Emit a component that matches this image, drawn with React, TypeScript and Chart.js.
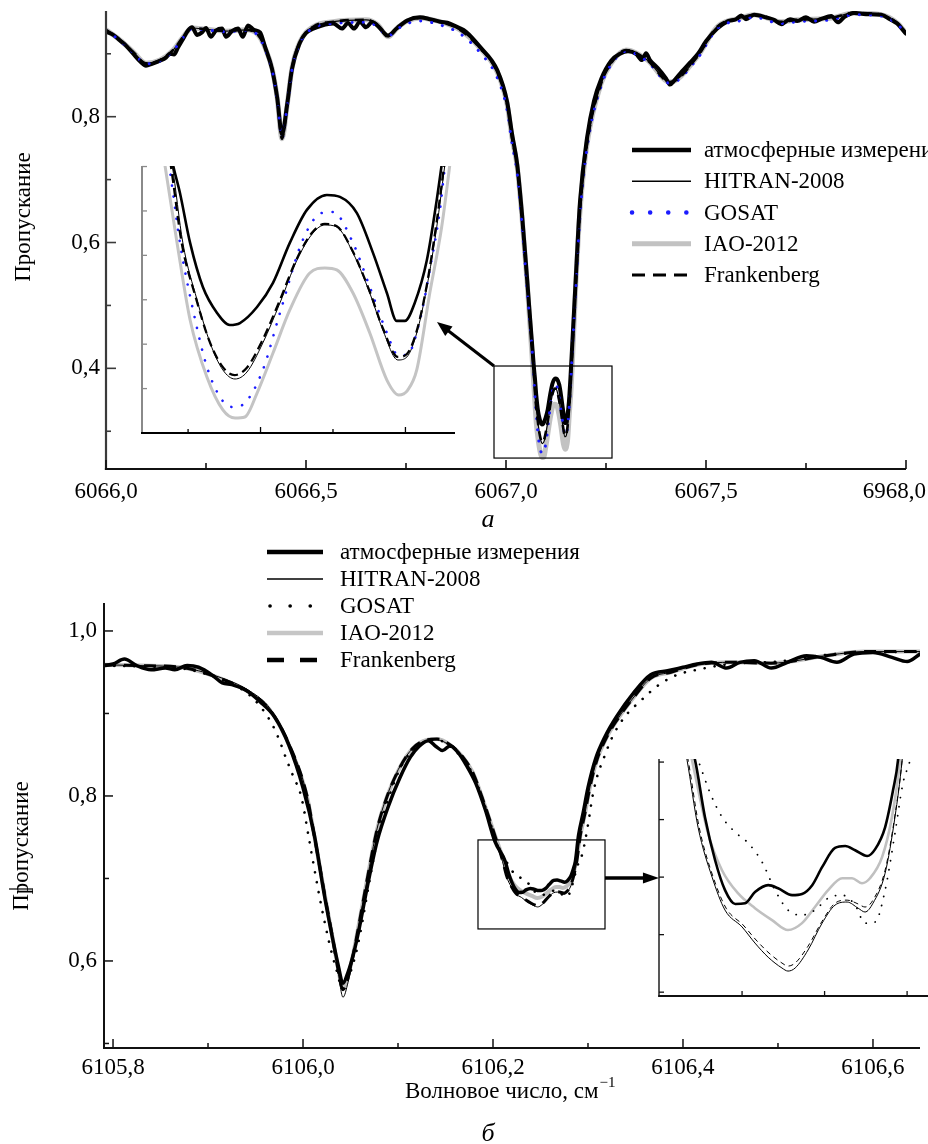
import { useEffect, useRef } from "react";
import { Chart, registerables } from "chart.js";

Chart.register(...registerables);

const SERIF = '"Liberation Serif", "DejaVu Serif", serif';

/* ================= Panel а (top) : ranges & ticks ================= */
const topRangeX = [6066.0, 6068.0];
const topRangeY = [0.24, 0.968];
const topXMajor = [6066.0, 6066.5, 6067.0, 6067.5, 6068.0];
const topXLabels = ["6066,0", "6066,5", "6067,0", "6067,5", "6968,0"];
const topXMinor = [6066.25, 6066.75, 6067.25, 6067.75];
const topYMajor = [0.4, 0.6, 0.8];
const topYLabels = ["0,4", "0,6", "0,8"];
const topYMinor = [0.3, 0.5, 0.7, 0.9];

const topInsetRangeX = [6067.0591, 6067.1671];
const topInsetRangeY = [0.25, 0.4003];
const topInsetXMajor = [6067.1, 6067.15];
const topInsetXMinor = [6067.075, 6067.125];
const topInsetYTicks = [0.275, 0.3, 0.325, 0.35, 0.375, 0.4];

const topBoxX = [6066.97, 6067.265];
const topBoxY = [0.2574, 0.4037];
const topArrowFrom = [6066.97, 0.4037];
const topArrowTo = [6066.8275, 0.4736];

/* ---- measurements (top) ---- */
const topMeasX = [
  6066.0, 6066.018, 6066.035, 6066.05, 6066.068, 6066.085, 6066.1, 6066.115, 6066.135, 6066.15,
  6066.16, 6066.17, 6066.18, 6066.193, 6066.205, 6066.215, 6066.228, 6066.24, 6066.25, 6066.262,
  6066.275, 6066.29, 6066.3, 6066.315, 6066.33, 6066.342, 6066.355, 6066.37, 6066.385, 6066.398,
  6066.415, 6066.428, 6066.44, 6066.453, 6066.465, 6066.485, 6066.5, 6066.518, 6066.54, 6066.568,
  6066.59, 6066.605, 6066.62, 6066.635, 6066.65, 6066.665, 6066.68, 6066.705, 6066.728, 6066.753,
  6066.785, 6066.81, 6066.835, 6066.86, 6066.88, 6066.9, 6066.935, 6066.978, 6067.003, 6067.015,
  6067.028, 6067.04, 6067.053,
  6067.0698, 6067.0722, 6067.0757, 6067.0801, 6067.085, 6067.0894, 6067.0929, 6067.0988, 6067.1043, 6067.1101,
  6067.116, 6067.1229, 6067.1274, 6067.1332, 6067.1388, 6067.1436, 6067.147, 6067.1498, 6067.1532, 6067.1574,
  6067.1608, 6067.1625,
  6067.175, 6067.185, 6067.203, 6067.22, 6067.238, 6067.263, 6067.285, 6067.305, 6067.325, 6067.34,
  6067.35, 6067.36, 6067.38, 6067.4, 6067.41, 6067.42, 6067.44, 6067.46, 6067.48, 6067.5,
  6067.528, 6067.555, 6067.575, 6067.588, 6067.6, 6067.62, 6067.65, 6067.67, 6067.688, 6067.71,
  6067.728, 6067.75, 6067.77, 6067.79, 6067.813, 6067.83, 6067.845, 6067.87, 6067.9, 6067.938,
  6067.96, 6067.978, 6068.0,
];
const topMeasY = [
  0.935, 0.93, 0.921, 0.913, 0.9, 0.888, 0.881, 0.884, 0.889, 0.894,
  0.9, 0.899, 0.91, 0.924, 0.937, 0.942, 0.93, 0.934, 0.941, 0.927,
  0.937, 0.94, 0.927, 0.936, 0.94, 0.927, 0.945, 0.938, 0.934, 0.91,
  0.876, 0.83, 0.772, 0.82, 0.876, 0.918, 0.933, 0.94, 0.945, 0.948,
  0.94, 0.949, 0.94, 0.951, 0.942, 0.95, 0.944, 0.929, 0.941, 0.953,
  0.958, 0.955, 0.951, 0.948, 0.942, 0.935, 0.911, 0.874, 0.823, 0.773,
  0.724, 0.645, 0.54,
  0.4009, 0.3851, 0.357, 0.3322, 0.3176, 0.3108, 0.3119, 0.3209, 0.3345, 0.357,
  0.3756, 0.384, 0.3829, 0.3739, 0.3514, 0.3288, 0.3131, 0.3131, 0.3232, 0.3474,
  0.3812, 0.4009,
  0.55, 0.665, 0.768, 0.825, 0.86, 0.889, 0.9, 0.904, 0.9, 0.89,
  0.901, 0.89, 0.877, 0.861, 0.851, 0.857, 0.872, 0.886, 0.9, 0.92,
  0.94, 0.952, 0.955, 0.961, 0.955, 0.962, 0.958, 0.954, 0.947, 0.955,
  0.952, 0.958, 0.951, 0.956, 0.96, 0.95, 0.958, 0.965, 0.963, 0.962,
  0.955, 0.948, 0.932,
];

/* ---- model wings (top), shared by HITRAN / IAO / Frankenberg ---- */
const topModelLeftX = [
  6066.0, 6066.035, 6066.068, 6066.1, 6066.135, 6066.168, 6066.193, 6066.215, 6066.25, 6066.3,
  6066.35, 6066.38, 6066.398, 6066.415, 6066.428, 6066.44, 6066.453, 6066.465, 6066.485, 6066.518,
  6066.568, 6066.65, 6066.68, 6066.705, 6066.728, 6066.753, 6066.785, 6066.835, 6066.885, 6066.935,
  6066.978, 6067.003, 6067.015, 6067.028, 6067.04, 6067.053,
];
const topModelLeftY = [
  0.938, 0.922, 0.903, 0.885, 0.89, 0.906, 0.927, 0.941, 0.939, 0.936,
  0.938, 0.93, 0.909, 0.877, 0.83, 0.765, 0.819, 0.877, 0.919, 0.943,
  0.951, 0.954, 0.946, 0.927, 0.941, 0.952, 0.957, 0.951, 0.938, 0.909,
  0.871, 0.819, 0.766, 0.72, 0.64, 0.535,
];
const topGosatLeftY = [
  0.937, 0.921, 0.902, 0.884, 0.889, 0.905, 0.926, 0.94, 0.938, 0.935,
  0.937, 0.929, 0.907, 0.875, 0.828, 0.766, 0.817, 0.875, 0.917, 0.941,
  0.948, 0.95, 0.943, 0.928, 0.939, 0.948, 0.952, 0.946, 0.932, 0.902,
  0.862, 0.81, 0.758, 0.71, 0.628, 0.524,
];
const topModelRightX = [
  6067.175, 6067.185, 6067.203, 6067.238, 6067.263, 6067.3, 6067.353, 6067.41, 6067.478, 6067.528,
  6067.588, 6067.62, 6067.688, 6067.728, 6067.813, 6067.87, 6067.938, 6067.978, 6068.0,
];
const topModelRightY = [
  0.54, 0.65, 0.758, 0.853, 0.885, 0.906, 0.89, 0.855, 0.895, 0.943,
  0.957, 0.962, 0.951, 0.954, 0.957, 0.965, 0.962, 0.949, 0.933,
];
const topGosatRightY = [
  0.53, 0.642, 0.752, 0.849, 0.883, 0.904, 0.888, 0.853, 0.892, 0.94,
  0.953, 0.958, 0.948, 0.951, 0.954, 0.962, 0.96, 0.947, 0.932,
];

/* ---- line cores (top, the zoomed doublet) ---- */
const topHitranDipX = [
  6067.0695, 6067.0732, 6067.0781, 6067.0826, 6067.087, 6067.0912, 6067.0953, 6067.1008, 6067.1067, 6067.1126,
  6067.1181, 6067.1222, 6067.1263, 6067.1319, 6067.1377, 6067.1422, 6067.1474, 6067.1505, 6067.1539, 6067.1574,
  6067.1608, 6067.1636,
];
const topHitranDipY = [
  0.4009, 0.357, 0.3249, 0.3007, 0.2855, 0.2804, 0.2843, 0.3007, 0.3232, 0.3474,
  0.3626, 0.3671, 0.366, 0.3514, 0.3288, 0.308, 0.2911, 0.2928, 0.3063, 0.3322,
  0.366, 0.4009,
];
const topFrankDipX = [
  6067.069, 6067.0728, 6067.0778, 6067.0823, 6067.0868, 6067.091, 6067.0952, 6067.1006, 6067.1066, 6067.1125,
  6067.118, 6067.1222, 6067.1263, 6067.1319, 6067.1377, 6067.1422, 6067.1474, 6067.1505, 6067.1539, 6067.1574,
  6067.1606, 6067.1634,
];
const topFrankDipY = [
  0.4009, 0.357, 0.3255, 0.302, 0.2875, 0.2826, 0.2866, 0.302, 0.3245, 0.348,
  0.3632, 0.3677, 0.3664, 0.352, 0.3295, 0.309, 0.2928, 0.2945, 0.3075, 0.3335,
  0.3668, 0.4009,
];
const topGosatDipX = [
  6067.0684, 6067.0722, 6067.0767, 6067.0815, 6067.0867, 6067.0905, 6067.0946, 6067.1008, 6067.1067, 6067.1146,
  6067.1212, 6067.125, 6067.1319, 6067.1377, 6067.1436, 6067.1474, 6067.1505, 6067.155, 6067.1584, 6067.1619,
  6067.1636,
];
const topGosatDipY = [
  0.4009, 0.357, 0.3193, 0.2872, 0.2686, 0.2646, 0.2669, 0.2855, 0.3176, 0.3587,
  0.3739, 0.3744, 0.357, 0.3322, 0.3063, 0.2939, 0.2939, 0.3136, 0.3418, 0.3756,
  0.3998,
];
const topIaoDipX = [
  6067.067, 6067.0712, 6067.0757, 6067.0815, 6067.087, 6067.0912, 6067.0946, 6067.0988, 6067.1043, 6067.1101,
  6067.117, 6067.1222, 6067.1263, 6067.1319, 6067.1377, 6067.1436, 6067.1477, 6067.1508, 6067.1539, 6067.1584,
  6067.1625, 6067.1653,
];
const topIaoDipY = [
  0.4009, 0.357, 0.3136, 0.2815, 0.263, 0.2584, 0.259, 0.2725, 0.295, 0.3193,
  0.3401, 0.3429, 0.3418, 0.3288, 0.3063, 0.2798, 0.2714, 0.2742, 0.2855, 0.3288,
  0.366, 0.4009,
];

/* ================= Panel б (bottom) : ranges & ticks ================= */
const botRangeX = [6105.7905, 6106.6495];
const botRangeY = [0.4945, 1.0339];
const botXMajor = [6105.8, 6106.0, 6106.2, 6106.4, 6106.6];
const botXLabels = ["6105,8", "6106,0", "6106,2", "6106,4", "6106,6"];
const botXMinor = [6105.9, 6106.1, 6106.3, 6106.5];
const botYMajor = [0.6, 0.8, 1.0];
const botYLabels = ["0,6", "0,8", "1,0"];
const botYMinor = [0.5, 0.7, 0.9];

const botInsetRangeX = [6106.1998, 6106.2976];
const botInsetRangeY = [0.659, 0.7208];
const botInsetXTicks = [6106.23, 6106.26, 6106.29];
const botInsetYTicks = [0.66, 0.675, 0.69, 0.705, 0.72];

const botBoxX = [6106.1842, 6106.3179];
const botBoxY = [0.6388, 0.7467];
const botArrowFrom = [6106.3179, 0.7006];
const botArrowTo = [6106.3747, 0.7006];

const botMeasX = [
  6105.7905, 6105.8, 6105.812, 6105.825, 6105.84, 6105.855, 6105.865, 6105.878, 6105.89, 6105.905,
  6105.915, 6105.925, 6105.94, 6105.955, 6105.97, 6105.985, 6106.0, 6106.012, 6106.022, 6106.031,
  6106.037, 6106.042, 6106.047, 6106.053, 6106.058, 6106.068, 6106.078, 6106.09, 6106.102, 6106.113,
  6106.122, 6106.132, 6106.14, 6106.147, 6106.155, 6106.163, 6106.172, 6106.182, 6106.192, 6106.202,
  6106.2129, 6106.2165, 6106.2202, 6106.2238, 6106.2275, 6106.2311, 6106.2347, 6106.2395, 6106.2431, 6106.2482,
  6106.2518, 6106.2555, 6106.2591, 6106.2638, 6106.2675, 6106.2711, 6106.2755, 6106.2784, 6106.282, 6106.2849,
  6106.2867,
  6106.29, 6106.295, 6106.3, 6106.308, 6106.318, 6106.33, 6106.348, 6106.366, 6106.385, 6106.4,
  6106.415, 6106.43, 6106.446, 6106.46, 6106.475, 6106.493, 6106.51, 6106.53, 6106.545, 6106.562,
  6106.58, 6106.6, 6106.62, 6106.636, 6106.6495,
];
const botMeasY = [
  0.958, 0.96, 0.966, 0.958, 0.953, 0.955, 0.953, 0.958, 0.956, 0.946,
  0.937, 0.935, 0.928, 0.914, 0.896, 0.862, 0.81, 0.752, 0.683, 0.628,
  0.595, 0.573, 0.585, 0.608, 0.633, 0.692, 0.745, 0.788, 0.822, 0.847,
  0.86, 0.867, 0.86, 0.855, 0.861, 0.853, 0.837, 0.815, 0.783, 0.745,
  0.7205, 0.7057, 0.6944, 0.6866, 0.683, 0.6832, 0.6861, 0.6879, 0.6871, 0.6853,
  0.6856, 0.6879, 0.6926, 0.6976, 0.6981, 0.697, 0.6955, 0.6973, 0.703, 0.7127,
  0.7205,
  0.752, 0.78, 0.81, 0.845, 0.872, 0.896, 0.925, 0.947, 0.952, 0.956,
  0.96, 0.962, 0.955, 0.962, 0.964, 0.955, 0.962, 0.97, 0.968, 0.962,
  0.972, 0.974, 0.968, 0.963, 0.972,
];

const botGosatX = [
  6105.7905, 6105.83, 6105.87, 6105.91, 6105.944, 6105.965, 6105.975, 6105.982, 6105.99, 6105.998,
  6106.006, 6106.017, 6106.027, 6106.035, 6106.042, 6106.048, 6106.055, 6106.06, 6106.07, 6106.08,
  6106.09, 6106.102, 6106.116, 6106.13, 6106.141, 6106.155, 6106.168, 6106.179, 6106.19, 6106.2,
  6106.207,
  6106.214, 6106.2184, 6106.2227, 6106.2275, 6106.2322, 6106.2373, 6106.242, 6106.2467, 6106.2518, 6106.2565,
  6106.2613, 6106.2664, 6106.2711, 6106.2747, 6106.2784, 6106.282, 6106.2856, 6106.2885, 6106.2911,
  6106.2945, 6106.3, 6106.305, 6106.31, 6106.317, 6106.325, 6106.338, 6106.356, 6106.375, 6106.394,
  6106.415, 6106.45, 6106.5, 6106.55, 6106.6, 6106.6495,
];
const botGosatY = [
  0.958, 0.957, 0.955, 0.943, 0.922, 0.892, 0.868, 0.846, 0.823, 0.8,
  0.75, 0.68, 0.625, 0.59, 0.566, 0.58, 0.606, 0.632, 0.697, 0.757,
  0.797, 0.833, 0.856, 0.866, 0.868, 0.86, 0.845, 0.826, 0.793, 0.757,
  0.733,
  0.7205, 0.7119, 0.7057, 0.7017, 0.6989, 0.6939, 0.6866, 0.6814, 0.6801, 0.6814,
  0.6845, 0.6853, 0.6827, 0.678, 0.6783, 0.6866, 0.7015, 0.7145, 0.7205,
  0.732, 0.765, 0.801, 0.825, 0.847, 0.87, 0.895, 0.916, 0.935, 0.947,
  0.953, 0.96, 0.963, 0.971, 0.974, 0.975,
];

const botModelLeftX = [
  6105.7905, 6105.8284, 6105.8705, 6105.9095, 6105.9442, 6105.9653, 6105.9863, 6106.0042, 6106.0126, 6106.0232,
  6106.0316, 6106.0368, 6106.0421, 6106.0474, 6106.0526, 6106.0568, 6106.0674, 6106.0779, 6106.0884, 6106.1021,
  6106.1158, 6106.1305, 6106.1411, 6106.1547, 6106.1684, 6106.1789, 6106.1895, 6106.2,
];
const botIaoLeftY = [
  0.959, 0.958, 0.956, 0.944, 0.925, 0.904, 0.859, 0.799, 0.747, 0.678,
  0.625, 0.592, 0.567, 0.582, 0.607, 0.632, 0.698, 0.759, 0.799, 0.835,
  0.858, 0.868, 0.869, 0.862, 0.847, 0.828, 0.795, 0.759,
];
const botHitranLeftY = [
  0.959, 0.958, 0.956, 0.945, 0.927, 0.906, 0.862, 0.801, 0.748, 0.678,
  0.624, 0.588, 0.556, 0.574, 0.602, 0.63, 0.698, 0.76, 0.8, 0.836,
  0.858, 0.867, 0.868, 0.861, 0.846, 0.826, 0.793, 0.757,
];
const botFrankLeftY = [
  0.959, 0.958, 0.956, 0.944, 0.925, 0.904, 0.86, 0.8, 0.747, 0.678,
  0.625, 0.59, 0.565, 0.58, 0.606, 0.631, 0.698, 0.759, 0.799, 0.835,
  0.858, 0.868, 0.869, 0.862, 0.847, 0.828, 0.795, 0.759,
];
const botModelRightX = [
  6106.2916, 6106.2968, 6106.3021, 6106.3095, 6106.32, 6106.3305, 6106.3484, 6106.3663, 6106.3874, 6106.4147,
  6106.4505, 6106.4926, 6106.5558, 6106.5905, 6106.6495,
];
const botModelRightY = [
  0.75, 0.779, 0.811, 0.844, 0.872, 0.892, 0.92, 0.943, 0.95, 0.959,
  0.962, 0.961, 0.971, 0.975, 0.975,
];

const botIaoDipX = [
  6106.2118, 6106.2176, 6106.2227, 6106.2285, 6106.2347, 6106.2409, 6106.2467, 6106.2518, 6106.2565, 6106.2613,
  6106.2664, 6106.27, 6106.2736, 6106.2765, 6106.2809, 6106.2845, 6106.2875,
];
const botIaoDipY = [
  0.7205, 0.7015, 0.6918, 0.6858, 0.6819, 0.6788, 0.6762, 0.678, 0.6822, 0.6866,
  0.6897, 0.6897, 0.6884, 0.6897, 0.6952, 0.7057, 0.7205,
];
const botHitranDipX = [
  6106.21, 6106.214, 6106.2191, 6106.2238, 6106.23, 6106.2347, 6106.2395, 6106.2445, 6106.2467, 6106.2493,
  6106.254, 6106.2591, 6106.2638, 6106.2682, 6106.2722, 6106.2747, 6106.2776, 6106.282, 6106.2856, 6106.2882,
];
const botHitranDipY = [
  0.7205, 0.703, 0.69, 0.6814, 0.677, 0.6728, 0.6691, 0.6663, 0.6655, 0.6663,
  0.671, 0.678, 0.6827, 0.6835, 0.6819, 0.6809, 0.6832, 0.691, 0.7057, 0.7205,
];
const botFrankDipX = [
  6106.2104, 6106.2144, 6106.2195, 6106.2242, 6106.2304, 6106.2351, 6106.2398, 6106.2445, 6106.2467, 6106.2493,
  6106.254, 6106.2591, 6106.2638, 6106.2682, 6106.2722, 6106.2747, 6106.2776, 6106.282, 6106.2856, 6106.2882,
];
const botFrankDipY = [
  0.7205, 0.703, 0.69, 0.6819, 0.6775, 0.6736, 0.6702, 0.6676, 0.6668, 0.6676,
  0.672, 0.6785, 0.6832, 0.684, 0.683, 0.6822, 0.684, 0.6918, 0.7062, 0.7205,
];

const legendLabels = ["атмосферные измерения", "HITRAN-2008", "GOSAT", "IAO-2012", "Frankenberg"];

/* ================= helpers ================= */
type Style = { color: string; width: number; dash: number[]; cap: CanvasLineCap; order: number };

function series(xs: number[], ys: number[]) {
  return xs.map((x, i) => ({ x, y: ys[i] }));
}

function ds(data: { x: number; y: number }[], st: Style, clip?: number) {
  const d: any = {
    data,
    borderColor: st.color,
    borderWidth: st.width,
    borderDash: st.dash,
    borderCapStyle: st.cap,
    borderJoinStyle: "round",
    pointRadius: 0,
    fill: false,
    cubicInterpolationMode: "monotone",
    order: st.order,
  };
  if (clip !== undefined) d.clip = clip;
  return d;
}

function drawArrow(ctx: CanvasRenderingContext2D, x0: number, y0: number, x1: number, y1: number, w: number, hl: number, hw: number) {
  const ang = Math.atan2(y1 - y0, x1 - x0);
  const c = Math.cos(ang), s = Math.sin(ang);
  const bx = x1 - c * hl, by = y1 - s * hl;
  ctx.save();
  ctx.setLineDash([]);
  ctx.strokeStyle = "#000";
  ctx.lineWidth = w;
  ctx.lineCap = "butt";
  ctx.beginPath();
  ctx.moveTo(x0, y0);
  ctx.lineTo(bx + c * 2, by + s * 2);
  ctx.stroke();
  ctx.fillStyle = "#000";
  ctx.beginPath();
  ctx.moveTo(x1, y1);
  ctx.lineTo(bx - s * hw, by + c * hw);
  ctx.lineTo(bx + s * hw, by - c * hw);
  ctx.closePath();
  ctx.fill();
  ctx.restore();
}

function drawLegend(ctx: CanvasRenderingContext2D, styles: (Style & { start?: number })[], x0: number, x1: number, xt: number, y0: number, dy: number, px: number) {
  legendLabels.forEach((lab, i) => {
    const st = styles[i];
    const y = y0 + i * dy;
    ctx.save();
    ctx.strokeStyle = st.color;
    ctx.lineWidth = st.width;
    ctx.setLineDash(st.dash);
    ctx.lineCap = st.cap;
    ctx.beginPath();
    ctx.moveTo(st.start ?? x0, y);
    ctx.lineTo(x1, y);
    ctx.stroke();
    ctx.restore();
    ctx.fillStyle = "#000";
    ctx.font = `${px}px ${SERIF}`;
    ctx.textAlign = "left";
    ctx.textBaseline = "middle";
    ctx.fillText(lab, xt, y + 1);
  });
}

function drawRotated(ctx: CanvasRenderingContext2D, text: string, cx: number, cy: number, px: number) {
  ctx.save();
  ctx.translate(cx, cy);
  ctx.rotate(-Math.PI / 2);
  ctx.font = `${px}px ${SERIF}`;
  ctx.fillStyle = "#000";
  ctx.textAlign = "center";
  ctx.textBaseline = "middle";
  ctx.fillText(text, 0, 0);
  ctx.restore();
}

type Decor = {
  xMajor: number[]; xMinor: number[]; xLabels?: string[];
  yMajor: number[]; yMinor: number[]; yLabels?: string[];
  xMajorLen: number; xMinorLen: number; yMajorLen: number; yMinorLen: number;
  leftColor: string; bottomColor: string; leftWidth: number; bottomWidth: number; tickWidth: number;
  xLabelDy?: number; yLabelDx?: number; fontPx?: number;
  extra?: (chart: any) => void;
};

function decorPlugin(d: Decor) {
  return {
    id: "decor",
    afterDraw(chart: any) {
      const { ctx, chartArea: a, scales } = chart;
      const sx = scales.x, sy = scales.y;
      ctx.save();
      ctx.setLineDash([]);
      ctx.lineCap = "butt";
      ctx.strokeStyle = d.leftColor;
      ctx.lineWidth = d.leftWidth;
      ctx.beginPath();
      ctx.moveTo(a.left, a.top);
      ctx.lineTo(a.left, a.bottom + d.bottomWidth / 2);
      ctx.stroke();
      ctx.strokeStyle = d.bottomColor;
      ctx.lineWidth = d.bottomWidth;
      ctx.beginPath();
      ctx.moveTo(a.left - d.leftWidth / 2, a.bottom);
      ctx.lineTo(a.right, a.bottom);
      ctx.stroke();
      ctx.lineWidth = d.tickWidth;
      const xt = (v: number, len: number) => {
        const p = sx.getPixelForValue(v);
        ctx.beginPath();
        ctx.moveTo(p, a.bottom);
        ctx.lineTo(p, a.bottom - len);
        ctx.stroke();
      };
      d.xMajor.forEach((v) => xt(v, d.xMajorLen));
      d.xMinor.forEach((v) => xt(v, d.xMinorLen));
      ctx.strokeStyle = d.leftColor;
      const yt = (v: number, len: number) => {
        const p = sy.getPixelForValue(v);
        ctx.beginPath();
        ctx.moveTo(a.left, p);
        ctx.lineTo(a.left + len, p);
        ctx.stroke();
      };
      d.yMajor.forEach((v) => yt(v, d.yMajorLen));
      d.yMinor.forEach((v) => yt(v, d.yMinorLen));
      ctx.fillStyle = "#000";
      ctx.font = `${d.fontPx ?? 23}px ${SERIF}`;
      ctx.textBaseline = "middle";
      if (d.xLabels) {
        ctx.textAlign = "center";
        d.xMajor.forEach((v, i) => {
          const lab = d.xLabels![i];
          const w = ctx.measureText(lab).width;
          let p = sx.getPixelForValue(v);
          p = Math.min(p, chart.width - 2 - w / 2);
          p = Math.max(p, 2 + w / 2);
          ctx.fillText(lab, p, a.bottom + (d.xLabelDy ?? 22));
        });
      }
      if (d.yLabels) {
        ctx.textAlign = "right";
        d.yMajor.forEach((v, i) => {
          ctx.fillText(d.yLabels![i], a.left - (d.yLabelDx ?? 6), sy.getPixelForValue(v));
        });
      }
      ctx.restore();
      if (d.extra) {
        ctx.save();
        d.extra(chart);
        ctx.restore();
      }
    },
  };
}

function config(datasets: any[], rx: number[], ry: number[], padding: any, decor: Decor) {
  return {
    type: "line" as const,
    data: { datasets },
    options: {
      responsive: false,
      maintainAspectRatio: false,
      animation: false as const,
      devicePixelRatio: 1,
      events: [] as any[],
      layout: { padding },
      plugins: { legend: { display: false }, tooltip: { enabled: false } },
      scales: {
        x: { type: "linear" as const, min: rx[0], max: rx[1], display: false },
        y: { type: "linear" as const, min: ry[0], max: ry[1], display: false },
      },
    },
    plugins: [decorPlugin(decor)],
  };
}

/* ---- assembled series ---- */
const topHitranX = [...topModelLeftX, ...topHitranDipX, ...topModelRightX];
const topHitranY = [...topModelLeftY, ...topHitranDipY, ...topModelRightY];
const topFrankX = [...topModelLeftX, ...topFrankDipX, ...topModelRightX];
const topFrankY = [...topModelLeftY, ...topFrankDipY, ...topModelRightY];
const topIaoX = [...topModelLeftX, ...topIaoDipX, ...topModelRightX];
const topIaoY = [...topModelLeftY, ...topIaoDipY, ...topModelRightY];
const topGosatX = [...topModelLeftX, ...topGosatDipX, ...topModelRightX];
const topGosatY = [...topGosatLeftY, ...topGosatDipY, ...topGosatRightY];

const botHitranX = [...botModelLeftX, ...botHitranDipX, ...botModelRightX];
const botHitranY = [...botHitranLeftY, ...botHitranDipY, ...botModelRightY];
const botFrankX = [...botModelLeftX, ...botFrankDipX, ...botModelRightX];
const botFrankY = [...botFrankLeftY, ...botFrankDipY, ...botModelRightY];
const botIaoX = [...botModelLeftX, ...botIaoDipX, ...botModelRightX];
const botIaoY = [...botIaoLeftY, ...botIaoDipY, ...botModelRightY];

function topDatasets(st: Record<string, Style>, clip?: number) {
  return [
    ds(series(topMeasX, topMeasY), st.meas, clip),
    ds(series(topHitranX, topHitranY), st.hitran, clip),
    ds(series(topGosatX, topGosatY), st.gosat, clip),
    ds(series(topIaoX, topIaoY), st.iao, clip),
    ds(series(topFrankX, topFrankY), st.frank, clip),
  ];
}
function botDatasets(st: Record<string, Style>, clip?: number) {
  return [
    ds(series(botMeasX, botMeasY), st.meas, clip),
    ds(series(botHitranX, botHitranY), st.hitran, clip),
    ds(series(botGosatX, botGosatY), st.gosat, clip),
    ds(series(botIaoX, botIaoY), st.iao, clip),
    ds(series(botFrankX, botFrankY), st.frank, clip),
  ];
}

const topMainStyle: Record<string, Style> = {
  meas: { color: "#000", width: 4, dash: [], cap: "round", order: 3 },
  hitran: { color: "#000", width: 1.2, dash: [], cap: "butt", order: 2 },
  gosat: { color: "#1c1cff", width: 3, dash: [0.1, 11], cap: "round", order: 1 },
  iao: { color: "#c2c2c2", width: 5, dash: [], cap: "butt", order: 4 },
  frank: { color: "#000", width: 2.6, dash: [9, 6], cap: "butt", order: 0 },
};
const topInsetStyle: Record<string, Style> = {
  meas: { color: "#000", width: 2.6, dash: [], cap: "round", order: 3 },
  hitran: { color: "#000", width: 1, dash: [], cap: "butt", order: 2 },
  gosat: { color: "#1c1cff", width: 2.6, dash: [0.1, 11], cap: "round", order: 1 },
  iao: { color: "#c4c4c4", width: 3, dash: [], cap: "butt", order: 4 },
  frank: { color: "#000", width: 2.3, dash: [9, 5], cap: "butt", order: 0 },
};
const botMainStyle: Record<string, Style> = {
  meas: { color: "#000", width: 3.5, dash: [], cap: "round", order: 3 },
  hitran: { color: "#000", width: 1, dash: [], cap: "butt", order: 2 },
  gosat: { color: "#000", width: 2.6, dash: [0.1, 10], cap: "round", order: 1 },
  iao: { color: "#bebebe", width: 4, dash: [], cap: "butt", order: 4 },
  frank: { color: "#000", width: 3, dash: [12, 8], cap: "butt", order: 0 },
};
const botInsetStyle: Record<string, Style> = {
  meas: { color: "#000", width: 2.6, dash: [], cap: "round", order: 3 },
  hitran: { color: "#000", width: 1, dash: [], cap: "butt", order: 2 },
  gosat: { color: "#000", width: 1.8, dash: [0.1, 9], cap: "round", order: 1 },
  iao: { color: "#c0c0c0", width: 2.6, dash: [], cap: "butt", order: 4 },
  frank: { color: "#000", width: 1, dash: [5, 4], cap: "butt", order: 0 },
};
const topLegendStyle = [
  { color: "#000", width: 4.5, dash: [], cap: "butt" as CanvasLineCap, order: 0 },
  { color: "#000", width: 1.3, dash: [], cap: "butt" as CanvasLineCap, order: 0 },
  { color: "#1c1cff", width: 4.5, dash: [0.1, 18], cap: "round" as CanvasLineCap, order: 0 },
  { color: "#c2c2c2", width: 5, dash: [], cap: "butt" as CanvasLineCap, order: 0 },
  { color: "#000", width: 3.2, dash: [13, 8], cap: "butt" as CanvasLineCap, order: 0 },
];
const botLegendStyle = [
  { color: "#000", width: 4.5, dash: [], cap: "butt" as CanvasLineCap, order: 0 },
  { color: "#000", width: 1.3, dash: [], cap: "butt" as CanvasLineCap, order: 0 },
  { color: "#000", width: 3.6, dash: [0.1, 20], cap: "round" as CanvasLineCap, order: 0, start: 270 },
  { color: "#c6c6c6", width: 4.5, dash: [], cap: "butt" as CanvasLineCap, order: 0 },
  { color: "#000", width: 4.5, dash: [17, 16], cap: "butt" as CanvasLineCap, order: 0 },
];

export default function App() {
  const r1 = useRef<HTMLCanvasElement>(null);
  const r2 = useRef<HTMLCanvasElement>(null);
  const r3 = useRef<HTMLCanvasElement>(null);
  const r4 = useRef<HTMLCanvasElement>(null);

  useEffect(() => {
    const topMain = new Chart(
      r1.current!,
      config(topDatasets(topMainStyle), topRangeX, topRangeY, { left: 106, right: 22, top: 11, bottom: 71 }, {
        xMajor: topXMajor, xMinor: topXMinor, xLabels: topXLabels,
        yMajor: topYMajor, yMinor: topYMinor, yLabels: topYLabels,
        xMajorLen: 9, xMinorLen: 6, yMajorLen: 10, yMinorLen: 5,
        leftColor: "#3a3a3a", bottomColor: "#111", leftWidth: 2.2, bottomWidth: 2, tickWidth: 1.6,
        xLabelDy: 23, yLabelDx: 6, fontPx: 23,
        extra: (chart: any) => {
          const { ctx, scales: { x, y } } = chart;
          const bx0 = x.getPixelForValue(topBoxX[0]), bx1 = x.getPixelForValue(topBoxX[1]);
          const by0 = y.getPixelForValue(topBoxY[0]), by1 = y.getPixelForValue(topBoxY[1]);
          ctx.strokeStyle = "#000";
          ctx.lineWidth = 1.2;
          ctx.strokeRect(bx0, by1, bx1 - bx0, by0 - by1);
          drawArrow(ctx, x.getPixelForValue(topArrowFrom[0]), y.getPixelForValue(topArrowFrom[1]),
            x.getPixelForValue(topArrowTo[0]), y.getPixelForValue(topArrowTo[1]), 3, 15, 6);
          drawLegend(ctx, topLegendStyle, 632, 691, 704, 150, 31.25, 23);
          drawRotated(ctx, "Пропускание", 24, 217, 23);
          ctx.font = `italic 26px ${SERIF}`;
          ctx.fillStyle = "#000";
          ctx.textAlign = "center";
          ctx.textBaseline = "middle";
          ctx.fillText("а", 488, 520);
        },
      }) as any
    );
    const topInset = new Chart(
      r2.current!,
      config(topDatasets(topInsetStyle, 0), topInsetRangeX, topInsetRangeY, { left: 17, right: 15, top: 16, bottom: 12 }, {
        xMajor: topInsetXMajor, xMinor: topInsetXMinor,
        yMajor: topInsetYTicks, yMinor: [],
        xMajorLen: 6, xMinorLen: 4, yMajorLen: 5, yMinorLen: 5,
        leftColor: "#8a8a8a", bottomColor: "#000", leftWidth: 2, bottomWidth: 2, tickWidth: 1.3,
      }) as any
    );
    const botMain = new Chart(
      r3.current!,
      config(botDatasets(botMainStyle), botRangeX, botRangeY, { left: 104, right: 8, top: 63, bottom: 96 }, {
        xMajor: botXMajor, xMinor: botXMinor, xLabels: botXLabels,
        yMajor: botYMajor, yMinor: botYMinor, yLabels: botYLabels,
        xMajorLen: 9, xMinorLen: 5, yMajorLen: 9, yMinorLen: 5,
        leftColor: "#111", bottomColor: "#111", leftWidth: 2, bottomWidth: 2, tickWidth: 1.5,
        xLabelDy: 20, yLabelDx: 7, fontPx: 23,
        extra: (chart: any) => {
          const { ctx, scales: { x, y } } = chart;
          const bx0 = x.getPixelForValue(botBoxX[0]), bx1 = x.getPixelForValue(botBoxX[1]);
          const by0 = y.getPixelForValue(botBoxY[0]), by1 = y.getPixelForValue(botBoxY[1]);
          ctx.strokeStyle = "#000";
          ctx.lineWidth = 1.2;
          ctx.strokeRect(bx0, by1, bx1 - bx0, by0 - by1);
          drawArrow(ctx, x.getPixelForValue(botArrowFrom[0]), y.getPixelForValue(botArrowFrom[1]),
            x.getPixelForValue(botArrowTo[0]), y.getPixelForValue(botArrowTo[1]), 3.5, 16, 5.5);
          drawLegend(ctx, botLegendStyle, 267, 323, 340, 12, 27, 23);
          drawRotated(ctx, "Пропускание", 22, 306, 23);
          ctx.strokeStyle = "#000";
          ctx.lineWidth = 1.2;
          ctx.beginPath();
          ctx.moveTo(9, 349);
          ctx.lineTo(33, 349);
          ctx.stroke();
          ctx.fillStyle = "#000";
          ctx.font = `23px ${SERIF}`;
          ctx.textAlign = "left";
          ctx.textBaseline = "middle";
          const t = "Волновое число, см";
          ctx.fillText(t, 405, 552);
          const w = ctx.measureText(t).width;
          ctx.font = `15px ${SERIF}`;
          ctx.fillText("−1", 405 + w + 1, 543);
          ctx.font = `italic 26px ${SERIF}`;
          ctx.textAlign = "center";
          ctx.fillText("б", 488, 594);
        },
      }) as any
    );
    const botInset = new Chart(
      r4.current!,
      config(botDatasets(botInsetStyle, 0), botInsetRangeX, botInsetRangeY, { left: 14, right: 0, top: 14, bottom: 14 }, {
        xMajor: botInsetXTicks, xMinor: [],
        yMajor: botInsetYTicks, yMinor: [],
        xMajorLen: 5, xMinorLen: 5, yMajorLen: 5, yMinorLen: 5,
        leftColor: "#111", bottomColor: "#111", leftWidth: 1.4, bottomWidth: 2, tickWidth: 1.3,
      }) as any
    );
    return () => {
      topMain.destroy();
      topInset.destroy();
      botMain.destroy();
      botInset.destroy();
    };
  }, []);

  const abs = (left: number, top: number, width: number, height: number) => ({
    position: "absolute" as const, left, top, width, height,
  });

  return (
    <div style={{ position: "fixed", left: 0, top: 0, width: 928, height: 1144, background: "#fff", overflow: "hidden" }}>
      <canvas ref={r1} width={928} height={540} style={abs(0, 0, 928, 540)} />
      <canvas ref={r3} width={928} height={604} style={abs(0, 540, 928, 604)} />
      <canvas ref={r2} width={345} height={295} style={abs(125, 150, 345, 295)} />
      <canvas ref={r4} width={283} height={265} style={abs(645, 745, 283, 265)} />
    </div>
  );
}
